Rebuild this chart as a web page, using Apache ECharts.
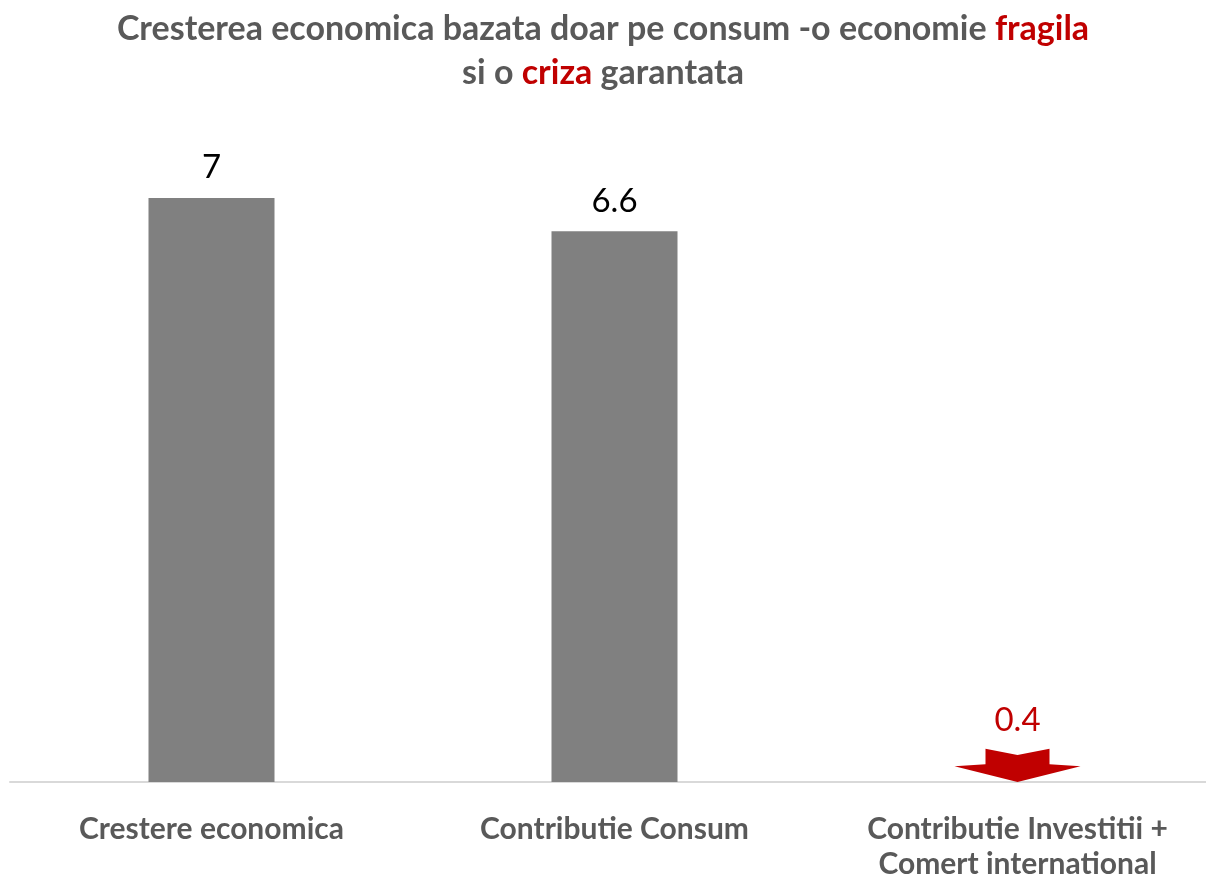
<!DOCTYPE html>
<html><head><meta charset="utf-8">
<script src="https://cdn.jsdelivr.net/npm/echarts@6/dist/echarts.min.js"></script>
<style>html,body{margin:0;padding:0;background:#fff}#c{width:1206px;height:880px}</style>
</head><body><div id="c"></div>
<script>
const categories = ['Crestere economica', 'Contributie Consum', 'Contributie Investitii +\nComert international'];
const grayValues = [7, 6.6, null];
const arrowValues = [null, null, 0.4];
const valueLabels = ['7', '6.6', '0.4'];

const chart = echarts.init(document.getElementById('c'));
const FONT = 'Lato';
chart.setOption({
  backgroundColor: '#fff',
  animation: false,
  title: {
    left: 'center', top: 2,
    text: '{g|Cresterea economica bazata doar pe consum -o economie }{r|fragila}\n{g|si o }{r|criza}{g| garantata}',
    textStyle: {
      rich: {
        g: {color: '#595959', fontSize: 34, fontWeight: 'bold', fontFamily: FONT, lineHeight: 44},
        r: {color: '#c00000', fontSize: 34, fontWeight: 'bold', fontFamily: FONT, lineHeight: 44}
      }
    }
  },
  grid: {left: 10, width: 1209, top: 198, bottom: 98, containLabel: false, outerBoundsMode: 'none'},
  xAxis: {
    type: 'category', data: categories,
    axisLine: {lineStyle: {color: '#d9d9d9', width: 2}},
    axisTick: {show: false},
    axisLabel: {color: '#595959', fontSize: 30, fontWeight: 'bold', fontFamily: FONT, margin: 30, lineHeight: 35, interval: 0, hideOverlap: false}
  },
  yAxis: {type: 'value', min: 0, max: 7, show: false, splitLine: {show: false}},
  series: [
    {
      type: 'bar', data: grayValues, barWidth: 126, barGap: '-100%',
      itemStyle: {color: '#808080'},
      label: {show: true, position: 'top', distance: 14, color: '#000', fontSize: 33, fontFamily: FONT,
        formatter: p => valueLabels[p.dataIndex]}
    },
    {
      type: 'pictorialBar', data: arrowValues, barWidth: 126, barGap: '-100%',
      symbol: 'path://M31,0 L63,6 L95,0 L95,15 L126,17 L63,32 L0,17 L31,15 Z',
      symbolSize: [126, '100%'], symbolPosition: 'start',
      itemStyle: {color: '#c00000'},
      label: {show: true, position: 'top', distance: 12, color: '#c00000', fontSize: 33, fontFamily: FONT,
        formatter: p => valueLabels[p.dataIndex]}
    }
  ]
});
</script></body></html>
